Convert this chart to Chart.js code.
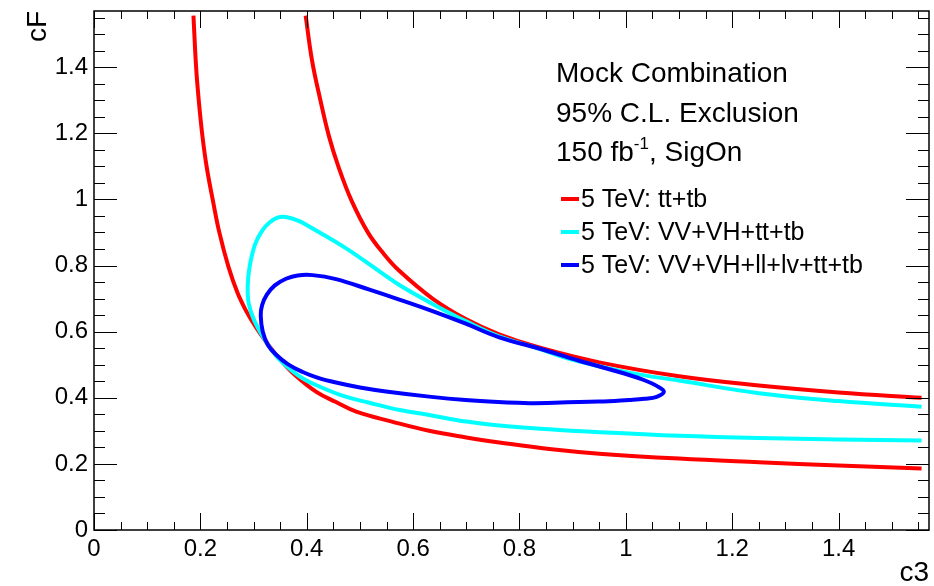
<!DOCTYPE html>
<html>
<head>
<meta charset="utf-8">
<script src="https://cdn.jsdelivr.net/npm/chart.js@4.4.0/dist/chart.umd.min.js"></script>
<style>
  html, body { margin: 0; padding: 0; background: #fff; }
  canvas { display: block; }
</style>
</head>
<body>
<canvas id="exclusion" width="934" height="586"></canvas>
<script>
// 95% C.L. exclusion contours in the (c3, cF) plane

// tt+tb, two branches
const ttTbLowC3 = [0.187, 0.192, 0.197, 0.204, 0.212, 0.2235, 0.236, 0.253, 0.270, 0.287, 0.305, 0.330, 0.352, 0.380, 0.418, 0.455, 0.493, 0.560, 0.630, 0.700, 0.762, 0.856, 0.950, 1.100, 1.250, 1.400, 1.556];
const ttTbLowCF = [1.556, 1.400, 1.299, 1.190, 1.097, 0.997, 0.898, 0.795, 0.717, 0.660, 0.612, 0.555, 0.512, 0.466, 0.418, 0.387, 0.358, 0.328, 0.300, 0.280, 0.265, 0.245, 0.231, 0.216, 0.205, 0.195, 0.186];
const ttTbHighC3 = [0.398, 0.410, 0.4257, 0.442, 0.4594, 0.4838, 0.5158, 0.545, 0.574, 0.6365, 0.699, 0.7617, 0.837, 0.950, 1.100, 1.250, 1.400, 1.556];
const ttTbHighCF = [1.556, 1.420, 1.300, 1.190, 1.100, 0.998, 0.898, 0.835, 0.784, 0.700, 0.638, 0.592, 0.552, 0.507, 0.465, 0.437, 0.416, 0.400];

// VV+VH+tt+tb, open contour (upper branch right to left, then lower branch)
const vvC3 = [1.556, 1.400, 1.250, 1.100, 1.006, 0.900, 0.837, 0.7617, 0.699, 0.6365, 0.574, 0.536, 0.474, 0.411, 0.385, 0.361, 0.345, 0.330, 0.316, 0.303, 0.2925, 0.289, 0.291, 0.301, 0.324, 0.345, 0.370, 0.395, 0.4238, 0.470, 0.5178, 0.575, 0.630, 0.700, 0.762, 0.856, 0.950, 1.100, 1.250, 1.400, 1.556];
const vvCF = [0.373, 0.390, 0.414, 0.452, 0.476, 0.515, 0.548, 0.586, 0.632, 0.684, 0.741, 0.783, 0.852, 0.912, 0.935, 0.947, 0.945, 0.930, 0.905, 0.865, 0.796, 0.735, 0.685, 0.635, 0.568, 0.522, 0.485, 0.456, 0.434, 0.405, 0.385, 0.363, 0.348, 0.328, 0.316, 0.305, 0.296, 0.285, 0.278, 0.274, 0.2706];

// VV+VH+ll+lv+tt+tb, closed contour
const allC3 = [0.818, 0.9494, 1.006, 1.035, 1.058, 1.0715, 1.058, 1.035, 1.006, 0.912, 0.837, 0.7617, 0.699, 0.6365, 0.574, 0.518, 0.455, 0.411, 0.383, 0.361, 0.340, 0.325, 0.316, 0.3135, 0.3173, 0.327, 0.3425, 0.365, 0.3924, 0.420, 0.455, 0.500, 0.549, 0.630, 0.699, 0.760, 0.818];
const allCF = [0.3836, 0.3884, 0.3935, 0.397, 0.403, 0.4186, 0.436, 0.453, 0.469, 0.512, 0.549, 0.583, 0.624, 0.662, 0.697, 0.727, 0.759, 0.771, 0.770, 0.760, 0.740, 0.712, 0.680, 0.648, 0.600, 0.560, 0.530, 0.501, 0.478, 0.461, 0.446, 0.431, 0.419, 0.4035, 0.393, 0.387, 0.3836];

const legendLabels = ["5 TeV: tt+tb", "5 TeV: VV+VH+tt+tb", "5 TeV: VV+VH+ll+lv+tt+tb"];
const legendColors = ["#ff0000", "#00ffff", "#0000ff"];

const xTicks = [0, 0.2, 0.4, 0.6, 0.8, 1, 1.2, 1.4];
const yTicks = [0, 0.2, 0.4, 0.6, 0.8, 1, 1.2, 1.4];
const axisMax = 1.57;

const FONT = "'Liberation Sans', Arial, Helvetica, sans-serif";

function pts(xs, ys) {
  return xs.map((x, i) => ({x: x, y: ys[i]}));
}

function line(data, color) {
  return {
    data: data,
    showLine: true,
    borderColor: color,
    backgroundColor: color,
    borderWidth: 4,
    pointRadius: 0,
    tension: 0.4,
    fill: false
  };
}

// ROOT style frame: ticks inside on all four sides
const rootFrame = {
  id: "rootFrame",
  afterDatasetsDraw(chart) {
    const {ctx, chartArea: a, scales: {x, y}} = chart;
    ctx.save();
    ctx.strokeStyle = "#000";
    ctx.lineWidth = 1;
    ctx.beginPath();
    for (let i = 0; i * 0.05 <= axisMax; i++) {
      const v = i * 0.05;
      const major = i % 4 === 0;
      const px = Math.round(x.getPixelForValue(v)) + 0.5;
      const lx = major ? 17 : 8;
      ctx.moveTo(px, a.bottom); ctx.lineTo(px, a.bottom - lx);
      ctx.moveTo(px, a.top); ctx.lineTo(px, a.top + lx);
      const py = Math.round(y.getPixelForValue(v)) + 0.5;
      const ly = major ? 23 : 11;
      ctx.moveTo(a.left, py); ctx.lineTo(a.left + ly, py);
      ctx.moveTo(a.right, py); ctx.lineTo(a.right - ly, py);
    }
    ctx.stroke();
    ctx.lineWidth = 1.5;
    ctx.strokeRect(a.left, a.top, a.right - a.left, a.bottom - a.top);
    ctx.restore();
  },
  afterDraw(chart) {
    const {ctx, chartArea: a} = chart;
    ctx.save();
    ctx.fillStyle = "#000";
    ctx.textBaseline = "alphabetic";

    // axis titles
    ctx.font = "28px " + FONT;
    ctx.textAlign = "right";
    ctx.fillText("c3", a.right, 581);
    ctx.save();
    ctx.translate(46, a.top);
    ctx.rotate(-Math.PI / 2);
    ctx.fillText("cF", 0, 0);
    ctx.restore();

    // header text
    ctx.textAlign = "left";
    ctx.font = "28px " + FONT;
    ctx.fillText("Mock Combination", 556, 82);
    ctx.fillText("95% C.L. Exclusion", 556, 122);
    let tx = 556;
    ctx.fillText("150 fb", tx, 161);
    tx += ctx.measureText("150 fb").width;
    ctx.font = "17px " + FONT;
    ctx.fillText("-1", tx, 149);
    tx += ctx.measureText("-1").width;
    ctx.font = "28px " + FONT;
    ctx.fillText(", SigOn", tx, 161);

    // legend
    ctx.font = "25px " + FONT;
    legendLabels.forEach((label, i) => {
      const base = 207 + i * 33;
      ctx.strokeStyle = legendColors[i];
      ctx.lineWidth = 4;
      ctx.beginPath();
      ctx.moveTo(561, base - 8);
      ctx.lineTo(579, base - 8);
      ctx.stroke();
      ctx.fillText(label, 581, base);
    });
    ctx.restore();
  }
};

const ctx = document.getElementById("exclusion").getContext("2d");

new Chart(ctx, {
  type: "scatter",
  data: {
    datasets: [
      line(pts(allC3, allCF), legendColors[2]),
      line(pts(vvC3, vvCF), legendColors[1]),
      line(pts(ttTbHighC3, ttTbHighCF), legendColors[0]),
      line(pts(ttTbLowC3, ttTbLowCF), legendColors[0])
    ]
  },
  options: {
    responsive: false,
    animation: false,
    devicePixelRatio: 1,
    layout: {padding: {top: 11, right: 5, left: 0, bottom: 0}},
    plugins: {
      legend: {display: false},
      tooltip: {enabled: false}
    },
    scales: {
      x: {
        type: "linear",
        min: 0,
        max: axisMax,
        grid: {display: false, drawTicks: false},
        border: {display: false},
        ticks: {
          color: "#000",
          font: {family: FONT, size: 24},
          padding: 5,
          maxRotation: 0,
          autoSkip: false,
          includeBounds: false,
          callback: v => String(+v.toFixed(2))
        },
        afterBuildTicks: s => { s.ticks = xTicks.map(v => ({value: v})); },
        afterFit: s => { s.height = 56; s.paddingLeft = 0; s.paddingRight = 0; }
      },
      y: {
        type: "linear",
        min: 0,
        max: axisMax,
        grid: {display: false, drawTicks: false},
        border: {display: false},
        ticks: {
          color: "#000",
          font: {family: FONT, size: 24},
          padding: 6,
          autoSkip: false,
          includeBounds: false,
          callback: v => String(+v.toFixed(2))
        },
        afterBuildTicks: s => { s.ticks = yTicks.map(v => ({value: v})); },
        afterFit: s => { s.width = 94; s.paddingTop = 0; s.paddingBottom = 0; }
      }
    }
  },
  plugins: [rootFrame]
});
</script>
</body>
</html>
